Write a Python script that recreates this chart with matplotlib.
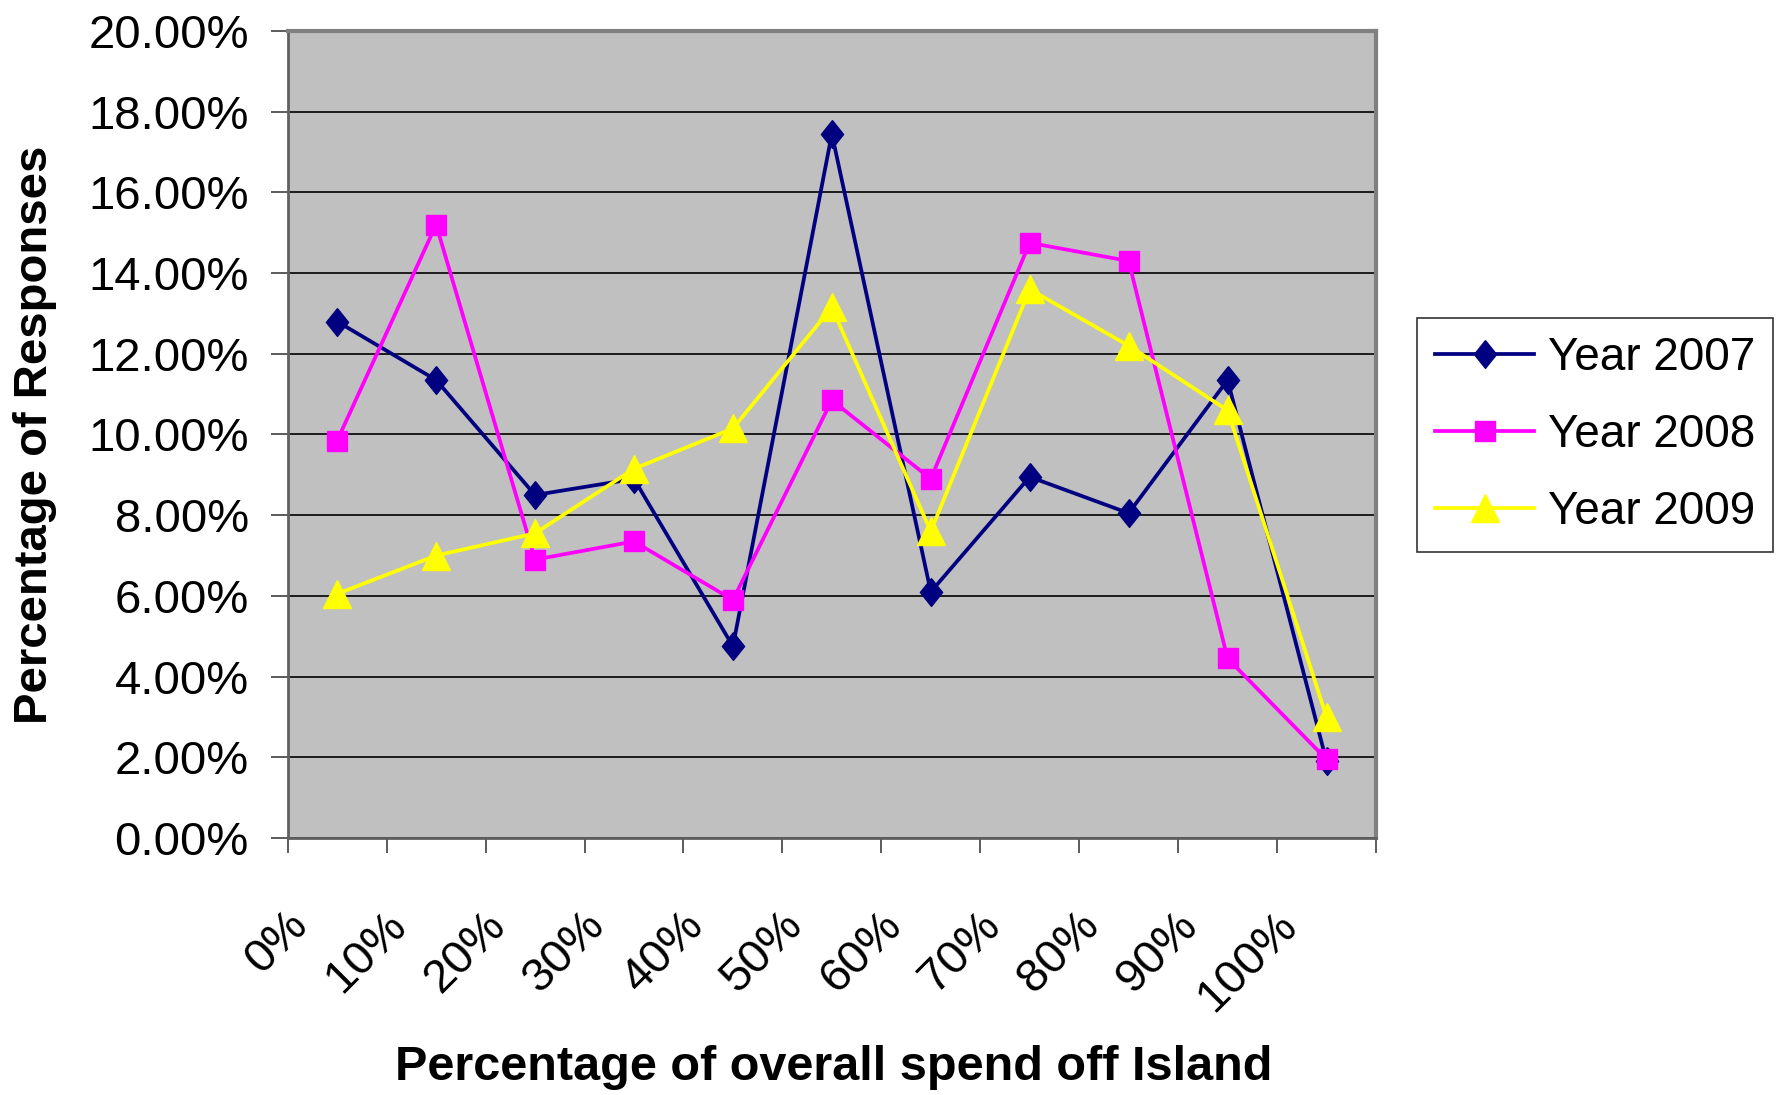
import numpy as np
import matplotlib
matplotlib.use("Agg")
import matplotlib.pyplot as plt
from matplotlib.ticker import FuncFormatter, MultipleLocator

# chart values (percent of responses)
categories = ['0%', '10%', '20%', '30%', '40%', '50%', '60%', '70%', '80%', '90%', '100%']
year_2007 = [12.8, 11.35, 8.5, 8.9, 4.75, 17.45, 6.1, 8.95, 8.05, 11.35, 1.9]
year_2008 = [9.85, 15.2, 6.9, 7.35, 5.9, 10.85, 8.9, 14.75, 14.3, 4.45, 1.95]
year_2009 = [6.05, 7.0, 7.55, 9.15, 10.15, 13.15, 7.6, 13.6, 12.2, 10.6, 3.0]
series_labels = ['Year 2007', 'Year 2008', 'Year 2009']

plt.rcParams['font.family'] = ['Liberation Sans', 'DejaVu Sans']

# slightly tall diamond, like the Excel marker
diamond = [(0, 1), (0.8, 0), (0, -1), (-0.8, 0), (0, 1)]

fig = plt.figure(figsize=(17.87, 10.95), dpi=100)
ax = fig.add_axes([0.161, 0.2347, 0.609, 0.737])
ax.set_facecolor('#C0C0C0')

x = np.arange(len(categories))
ax.plot(x, year_2007, color='#000080', lw=2.7, marker=diamond, markersize=20,
        label=series_labels[0], zorder=3)
ax.plot(x, year_2008, color='#FF00FF', lw=2.7, marker='s', markersize=15,
        label=series_labels[1], zorder=3)
ax.plot(x, year_2009, color='#FFFF00', lw=2.7, marker='^', markersize=20,
        label=series_labels[2], zorder=3)

ax.set_xlim(-0.5, len(categories) - 0.5)
ax.set_ylim(0, 20)
ax.yaxis.set_major_locator(MultipleLocator(2))
ax.yaxis.set_major_formatter(FuncFormatter(lambda v, p: f'{v:.2f}%'))
ax.grid(axis='y', color='black', lw=1.2, zorder=1)
ax.set_axisbelow(True)

# ticks on category boundaries, labels at the category centres
ax.set_xticks(np.arange(len(categories) + 1) - 0.5)
ax.set_xticklabels([])
ax.tick_params(axis='x', which='major', length=11, width=1.2, color='#404040')
ax.tick_params(axis='y', length=12, width=1.2, color='#404040', pad=16,
               labelsize=34)
for i, lab in enumerate(categories):
    ax.annotate(lab, xy=(i, 0), xycoords=('data', 'axes fraction'),
                xytext=(-26, -58), textcoords='offset points',
                rotation=45, ha='right', va='center', rotation_mode='anchor',
                fontsize=34)

for side in ['top', 'right']:
    ax.spines[side].set_color('#808080')
    ax.spines[side].set_linewidth(3)
for side in ['left', 'bottom']:
    ax.spines[side].set_color('#606060')
    ax.spines[side].set_linewidth(2)

ax.set_ylabel('Percentage of Responses', fontsize=34, fontweight='bold')
ax.yaxis.set_label_coords(-0.212, 0.5)
fig.text(0.4665, 0.025, 'Percentage of overall spend off Island',
         fontsize=35, fontweight='bold', ha='center', va='center')

leg = ax.legend(loc='upper left', bbox_to_anchor=(0.793, 0.71),
                bbox_transform=fig.transFigure, borderaxespad=0,
                fontsize=33, frameon=True, fancybox=False, edgecolor='black',
                handlelength=2.15, handletextpad=0.3, labelspacing=0.72,
                borderpad=0.4)
leg.get_frame().set_linewidth(1.2)

fig.savefig('out.png', dpi=100)
